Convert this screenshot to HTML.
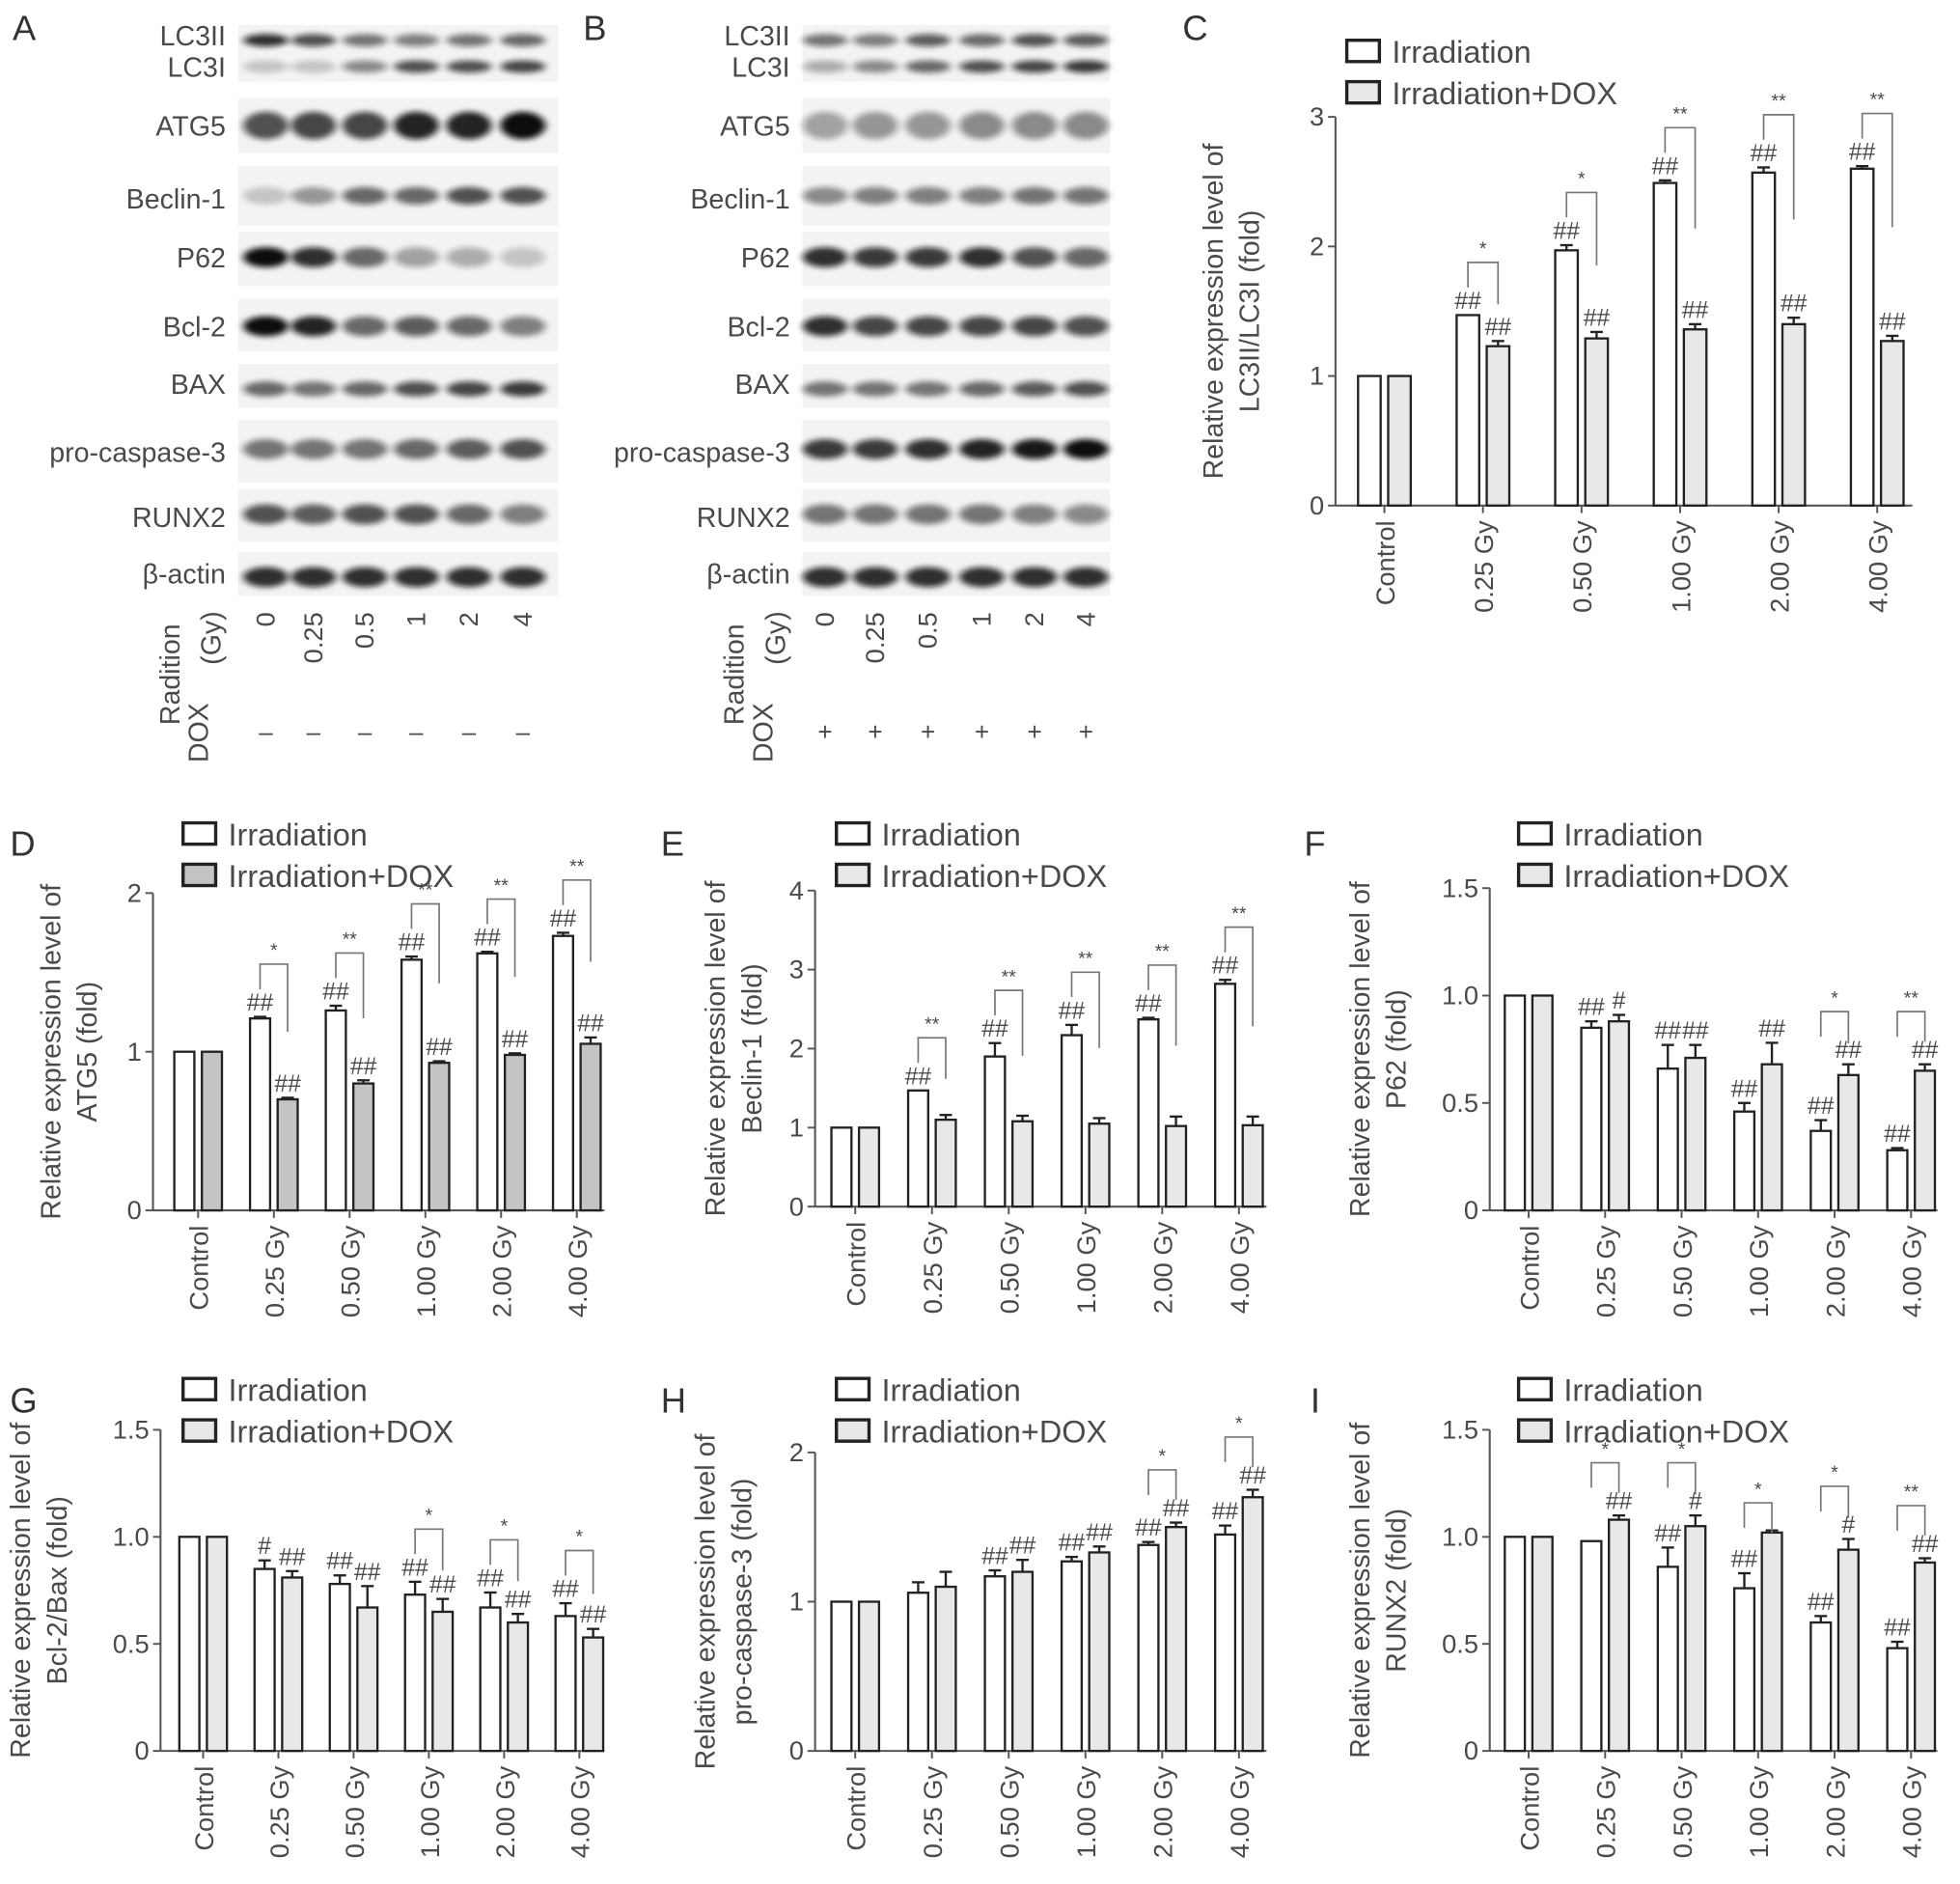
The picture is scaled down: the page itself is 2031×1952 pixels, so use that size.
<!DOCTYPE html>
<html><head><meta charset="utf-8">
<style>
html,body{margin:0;padding:0;background:#fff;}
svg{display:block;font-family:"Liberation Sans",sans-serif;}
</style></head>
<body>
<svg id="fig" width="2031" height="1952" viewBox="0 0 1563 1502" xmlns="http://www.w3.org/2000/svg">
<defs>
<filter id="blur" x="-20%" y="-80%" width="140%" height="260%"><feGaussianBlur stdDeviation="3 2.2"/></filter>
</defs>
<g id="blots"></g>
<g id="charts"></g>
</svg>
<script>
// ---------- chart data ----------
const groups = ["Control","0.25 Gy","0.50 Gy","1.00 Gy","2.00 Gy","4.00 Gy"];
const legendLabels = ["Irradiation","Irradiation+DOX"];

const cIrr=[1,1.47,1.97,2.49,2.57,2.60], cIrrErr=[0,0,0.04,0.02,0.04,0.02];
const cDox=[1,1.23,1.29,1.36,1.40,1.27], cDoxErr=[0,0.04,0.05,0.04,0.05,0.04];
const cIrrAnn=["","##","##","##","##","##"], cDoxAnn=["","##","##","##","##","##"], cSig=["","*","*","**","**","**"];
const cTicks=["0","1","2","3"];

const dIrr=[1,1.21,1.26,1.58,1.62,1.73], dIrrErr=[0,0.01,0.03,0.02,0.01,0.02];
const dDox=[1,0.70,0.80,0.93,0.98,1.05], dDoxErr=[0,0.01,0.02,0.01,0.01,0.04];
const dIrrAnn=["","##","##","##","##","##"], dDoxAnn=["","##","##","##","##","##"], dSig=["","*","**","**","**","**"];
const dTicks=["0","1","2"];

const eIrr=[1,1.47,1.90,2.17,2.37,2.82], eIrrErr=[0,0,0.17,0.13,0.02,0.05];
const eDox=[1,1.10,1.08,1.05,1.02,1.03], eDoxErr=[0,0.06,0.07,0.07,0.12,0.11];
const eIrrAnn=["","##","##","##","##","##"], eDoxAnn=["","","","","",""], eSig=["","**","**","**","**","**"];
const eTicks=["0","1","2","3","4"];

const fIrr=[1,0.85,0.66,0.46,0.37,0.28], fIrrErr=[0,0.03,0.11,0.04,0.05,0.01];
const fDox=[1,0.88,0.71,0.68,0.63,0.65], fDoxErr=[0,0.03,0.06,0.10,0.05,0.03];
const fIrrAnn=["","##","##","##","##","##"], fDoxAnn=["","#","##","##","##","##"], fSig=["","","","","*","**"];
const fTicks=["0","0.5","1.0","1.5"];

const gIrr=[1,0.85,0.78,0.73,0.67,0.63], gIrrErr=[0,0.04,0.04,0.06,0.07,0.06];
const gDox=[1,0.81,0.67,0.65,0.60,0.53], gDoxErr=[0,0.03,0.10,0.06,0.04,0.04];
const gIrrAnn=["","#","##","##","##","##"], gDoxAnn=["","##","##","##","##","##"], gSig=["","","","*","*","*"];
const gTicks=["0","0.5","1.0","1.5"];

const hIrr=[1,1.06,1.17,1.27,1.38,1.45], hIrrErr=[0,0.07,0.04,0.03,0.02,0.06];
const hDox=[1,1.10,1.20,1.33,1.50,1.70], hDoxErr=[0,0.10,0.08,0.04,0.03,0.05];
const hIrrAnn=["","","##","##","##","##"], hDoxAnn=["","","##","##","##","##"], hSig=["","","","","*","*"];
const hTicks=["0","1","2"];

const iIrr=[1,0.98,0.86,0.76,0.60,0.48], iIrrErr=[0,0,0.09,0.07,0.03,0.03];
const iDox=[1,1.08,1.05,1.02,0.94,0.88], iDoxErr=[0,0.02,0.05,0.01,0.05,0.02];
const iIrrAnn=["","","##","##","##","##"], iDoxAnn=["","##","#","","#","##"], iSig=["","*","*","*","*","**"];
const iTicks=["0","0.5","1.0","1.5"];

const NS="http://www.w3.org/2000/svg";
function el(parent, tag, attrs, text){
  const e=document.createElementNS(NS,tag);
  for(const k in attrs) e.setAttribute(k,attrs[k]);
  if(text!==undefined) e.textContent=text;
  parent.appendChild(e); return e;
}
const TXT="#4a4a4a";

function chart(id, L, irr, irrErr, dox, doxErr, irrAnn, doxAnn, sig, ticks, tickStep, title1, title2, doxFill){
  const root=document.getElementById('charts');
  const g=el(root,'g',{});
  
  
  const yS=v=>L.y0 - v*L.unit;
  const xS=i=>L.x0 + i*L.step;
  const topV=(ticks.length-1)*tickStep;
  const pl=el(g,'text',{x:L.letterX,y:L.letterY,'font-size':28,fill:'#333'},id.toUpperCase());
  
  
  const ya=el(g,'line',{x1:L.ax,y1:L.y0,x2:L.ax,y2:yS(topV),stroke:'#555','stroke-width':1.6});
  
  
  const xa=el(g,'line',{x1:L.ax,y1:L.y0,x2:L.xEnd,y2:L.y0,stroke:'#555','stroke-width':1.6});
  
  
  ticks.forEach((t,k)=>{
    const y=yS(k*tickStep);
    el(g,'line',{x1:L.ax-6,y1:y,x2:L.ax,y2:y,stroke:'#555','stroke-width':1.5});
    const tl=el(g,'text',{x:L.ax-9,y:y+7,'font-size':21,fill:TXT,'text-anchor':'end'},t);
    
    
  });
  const cy=L.y0 - topV*L.unit/2;
  const t1=el(g,'text',{transform:`translate(${L.t1x},${cy}) rotate(-90)`,'font-size':22,fill:TXT,'text-anchor':'middle'},title1);
  
  
  const t2=el(g,'text',{transform:`translate(${L.t2x},${cy}) rotate(-90)`,'font-size':22,fill:TXT,'text-anchor':'middle'},title2);
  
  
  [0,1].forEach(k=>{
    const ly=L.legY + k*33;
    const lb=el(g,'rect',{x:L.legX,y:ly,width:26,height:17,fill:k?doxFill:'#fff',stroke:'#222','stroke-width':2.6});
    
    
    const lt=el(g,'text',{x:L.legX+36,y:ly+18,'font-size':25,fill:TXT},legendLabels[k]);
    
    
  });
  const bw=L.bw;
  groups.forEach((name,i)=>{
    const gx=xS(i);
    el(g,'line',{x1:gx,y1:L.y0,x2:gx,y2:L.y0+6,stroke:'#555','stroke-width':1.5});
    const xl=el(g,'text',{transform:`translate(${gx+8},${L.y0+12}) rotate(-90)`,'font-size':21,fill:TXT,'text-anchor':'end'},name);
    
    
    const series=[[irr[i],irrErr[i],irrAnn[i],'#fff',gx-bw-3],[dox[i],doxErr[i],doxAnn[i],doxFill,gx+3]];
    const tops=[];
    series.forEach(([v,e,ann,fill,bx],s)=>{
      const top=yS(v);
      const b=el(g,'rect',{x:bx,y:top,width:bw,height:L.y0-top,fill:fill,stroke:'#222','stroke-width':1.8});
      
      
      const cx=bx+bw/2, et=yS(v+e);
      if(e>0){
        el(g,'line',{x1:cx,y1:top,x2:cx,y2:et,stroke:'#222','stroke-width':1.8});
        el(g,'line',{x1:cx-5,y1:et,x2:cx+5,y2:et,stroke:'#222','stroke-width':1.8});
      }
      if(ann){
        const a=el(g,'text',{x:cx,y:et-5,'font-size':19,fill:TXT,'text-anchor':'middle'},ann);
        
        
      }
      tops.push(et-(ann?20:0));
    });
    if(sig[i]){
      const lx=gx-bw/2-3, rx=gx+bw/2+3;
      const top=Math.min(tops[0],tops[1])-22;
      const lb=top+20, rb=top+Math.max(24,0.5*(yS(dox[i])-top));
      el(g,'path',{d:`M${lx},${lb} V${top} H${rx} V${rb}`,fill:'none',stroke:'#777','stroke-width':1.3});
      const st=el(g,'text',{x:(lx+rx)/2,y:top-6,'font-size':15,fill:TXT,'text-anchor':'middle'},sig[i]);
      
      
    }
  });
}

chart('c',{ax:1065,y0:403,unit:103.3,x0:1104,step:78.6,xEnd:1525,bw:18,legX:1074,legY:32,t1x:975,t2x:1004,letterX:943,letterY:32},
  cIrr,cIrrErr,cDox,cDoxErr,cIrrAnn,cDoxAnn,cSig,cTicks,1,"Relative expression level of","LC3II/LC3I (fold)","#e8e8e8");
chart('d',{ax:122,y0:965,unit:126.5,x0:158,step:60.4,xEnd:482,bw:16,legX:146,legY:656,t1x:48,t2x:77,letterX:8,letterY:682},
  dIrr,dIrrErr,dDox,dDoxErr,dIrrAnn,dDoxAnn,dSig,dTicks,1,"Relative expression level of","ATG5 (fold)","#c4c4c4");
chart('e',{ax:650,y0:962,unit:63,x0:682,step:61.2,xEnd:1010,bw:16,legX:667,legY:656,t1x:578,t2x:607,letterX:527,letterY:682},
  eIrr,eIrrErr,eDox,eDoxErr,eIrrAnn,eDoxAnn,eSig,eTicks,1,"Relative expression level of","Beclin-1 (fold)","#e8e8e8");
chart('f',{ax:1188,y0:965,unit:171.3,x0:1219,step:61,xEnd:1545,bw:16,legX:1211,legY:656,t1x:1092,t2x:1121,letterX:1040,letterY:682},
  fIrr,fIrrErr,fDox,fDoxErr,fIrrAnn,fDoxAnn,fSig,fTicks,0.5,"Relative expression level of","P62 (fold)","#e8e8e8");
chart('g',{ax:128,y0:1396,unit:170.7,x0:162,step:60,xEnd:482,bw:16,legX:146,legY:1099,t1x:24,t2x:53,letterX:8,letterY:1126},
  gIrr,gIrrErr,gDox,gDoxErr,gIrrAnn,gDoxAnn,gSig,gTicks,0.5,"Relative expression level of","Bcl-2/Bax (fold)","#e8e8e8");
chart('h',{ax:650,y0:1396,unit:119,x0:682,step:61.2,xEnd:1010,bw:16,legX:667,legY:1099,t1x:570,t2x:599,letterX:527,letterY:1126},
  hIrr,hIrrErr,hDox,hDoxErr,hIrrAnn,hDoxAnn,hSig,hTicks,1,"Relative expression level of","pro-caspase-3 (fold)","#e8e8e8");
chart('i',{ax:1188,y0:1396,unit:170.7,x0:1219,step:61,xEnd:1545,bw:16,legX:1211,legY:1099,t1x:1092,t2x:1121,letterX:1045,letterY:1126},
  iIrr,iIrrErr,iDox,iDoxErr,iIrrAnn,iDoxAnn,iSig,iTicks,0.5,"Relative expression level of","RUNX2 (fold)","#e8e8e8");

// ---------- western blots ----------
const blotRows=["LC3II","LC3I","ATG5","Beclin-1","P62","Bcl-2","BAX","pro-caspase-3","RUNX2","β-actin"];
const blotA=[[.85,.7,.55,.5,.55,.6],[.2,.2,.45,.7,.7,.75],[.7,.75,.75,.9,.9,1],[.2,.4,.6,.6,.7,.7],[1,.85,.6,.35,.3,.2],[1,.9,.6,.65,.6,.5],[.6,.55,.6,.7,.75,.8],[.55,.55,.55,.6,.65,.7],[.7,.65,.7,.7,.6,.5],[.85,.85,.85,.85,.85,.85]];
const blotB=[[.55,.5,.65,.6,.7,.65],[.3,.45,.6,.7,.75,.8],[.35,.4,.4,.45,.45,.45],[.45,.5,.5,.5,.55,.55],[.85,.8,.8,.85,.7,.6],[.85,.75,.75,.75,.75,.7],[.55,.55,.55,.6,.65,.7],[.8,.8,.85,.9,.95,1],[.55,.55,.55,.55,.5,.45],[.85,.85,.85,.85,.85,.85]];
const blotGeom=[[20,65,32,10],[20,65,53,10],[78,122,100,22],[132,180,156,14],[185,228,205,16],[238,280,260,16],[290,325,310,12],[335,385,358,16],[390,432,410,16],[440,475,460,16]];
const labelY=[28,53,100,158,205,260,306,360,412,457];
function blot(id, bx, bw, lanes, vals, labX, doses, sign){
  const root=document.getElementById('blots');
  const g=el(root,'g',{});
  
  
  const done={};
  blotGeom.forEach(([t,b,cy,h],r)=>{
    if(!done[t]){done[t]=1;
      const bg=el(g,'rect',{x:bx,y:t,width:bw,height:b-t,fill:'#f3f3f3'});
      
      }
    lanes.forEach((lx,k)=>{
      const band=el(g,'ellipse',{cx:lx,cy:cy,rx:18,ry:h/2,fill:'#111',opacity:vals[r][k],filter:'url(#blur)'});
      
      
    });
    const lt=el(g,'text',{x:labX,y:labelY[r]+8,'font-size':22,fill:TXT,'text-anchor':'end'},blotRows[r]);
    
    
  });
  doses.forEach((d,k)=>{
    const t=el(g,'text',{transform:`translate(${lanes[k]+7},${488}) rotate(-90)`,'font-size':21,fill:TXT,'text-anchor':'end'},d);
    
    
    const s=el(g,'text',{x:lanes[k],y:590,'font-size':20,fill:TXT,'text-anchor':'middle'},sign);
    
    
  });
  const r1=el(g,'text',{transform:`translate(${bx-24},${608}) rotate(-90)`,'font-size':22,fill:TXT},"DOX");
  
  
  const r2=el(g,'text',{transform:`translate(${bx-47},${578}) rotate(-90)`,'font-size':22,fill:TXT},"Radition");
  
  
  const r3=el(g,'text',{transform:`translate(${bx-14},${530}) rotate(-90)`,'font-size':22,fill:TXT},"(Gy)");
  
  
  const L=el(g,'text',{x:id==='a'?10:465,y:32,'font-size':28,fill:'#333'},id.toUpperCase());
  
  
}
const doses=["0","0.25","0.5","1","2","4"];
blot('a',190,255,[212,250,291,332,374,417],blotA,180,doses,"–");
blot('b',640,245,[658,698,740,783,825,866],blotB,630,doses,"+");
</script>
</body></html>
